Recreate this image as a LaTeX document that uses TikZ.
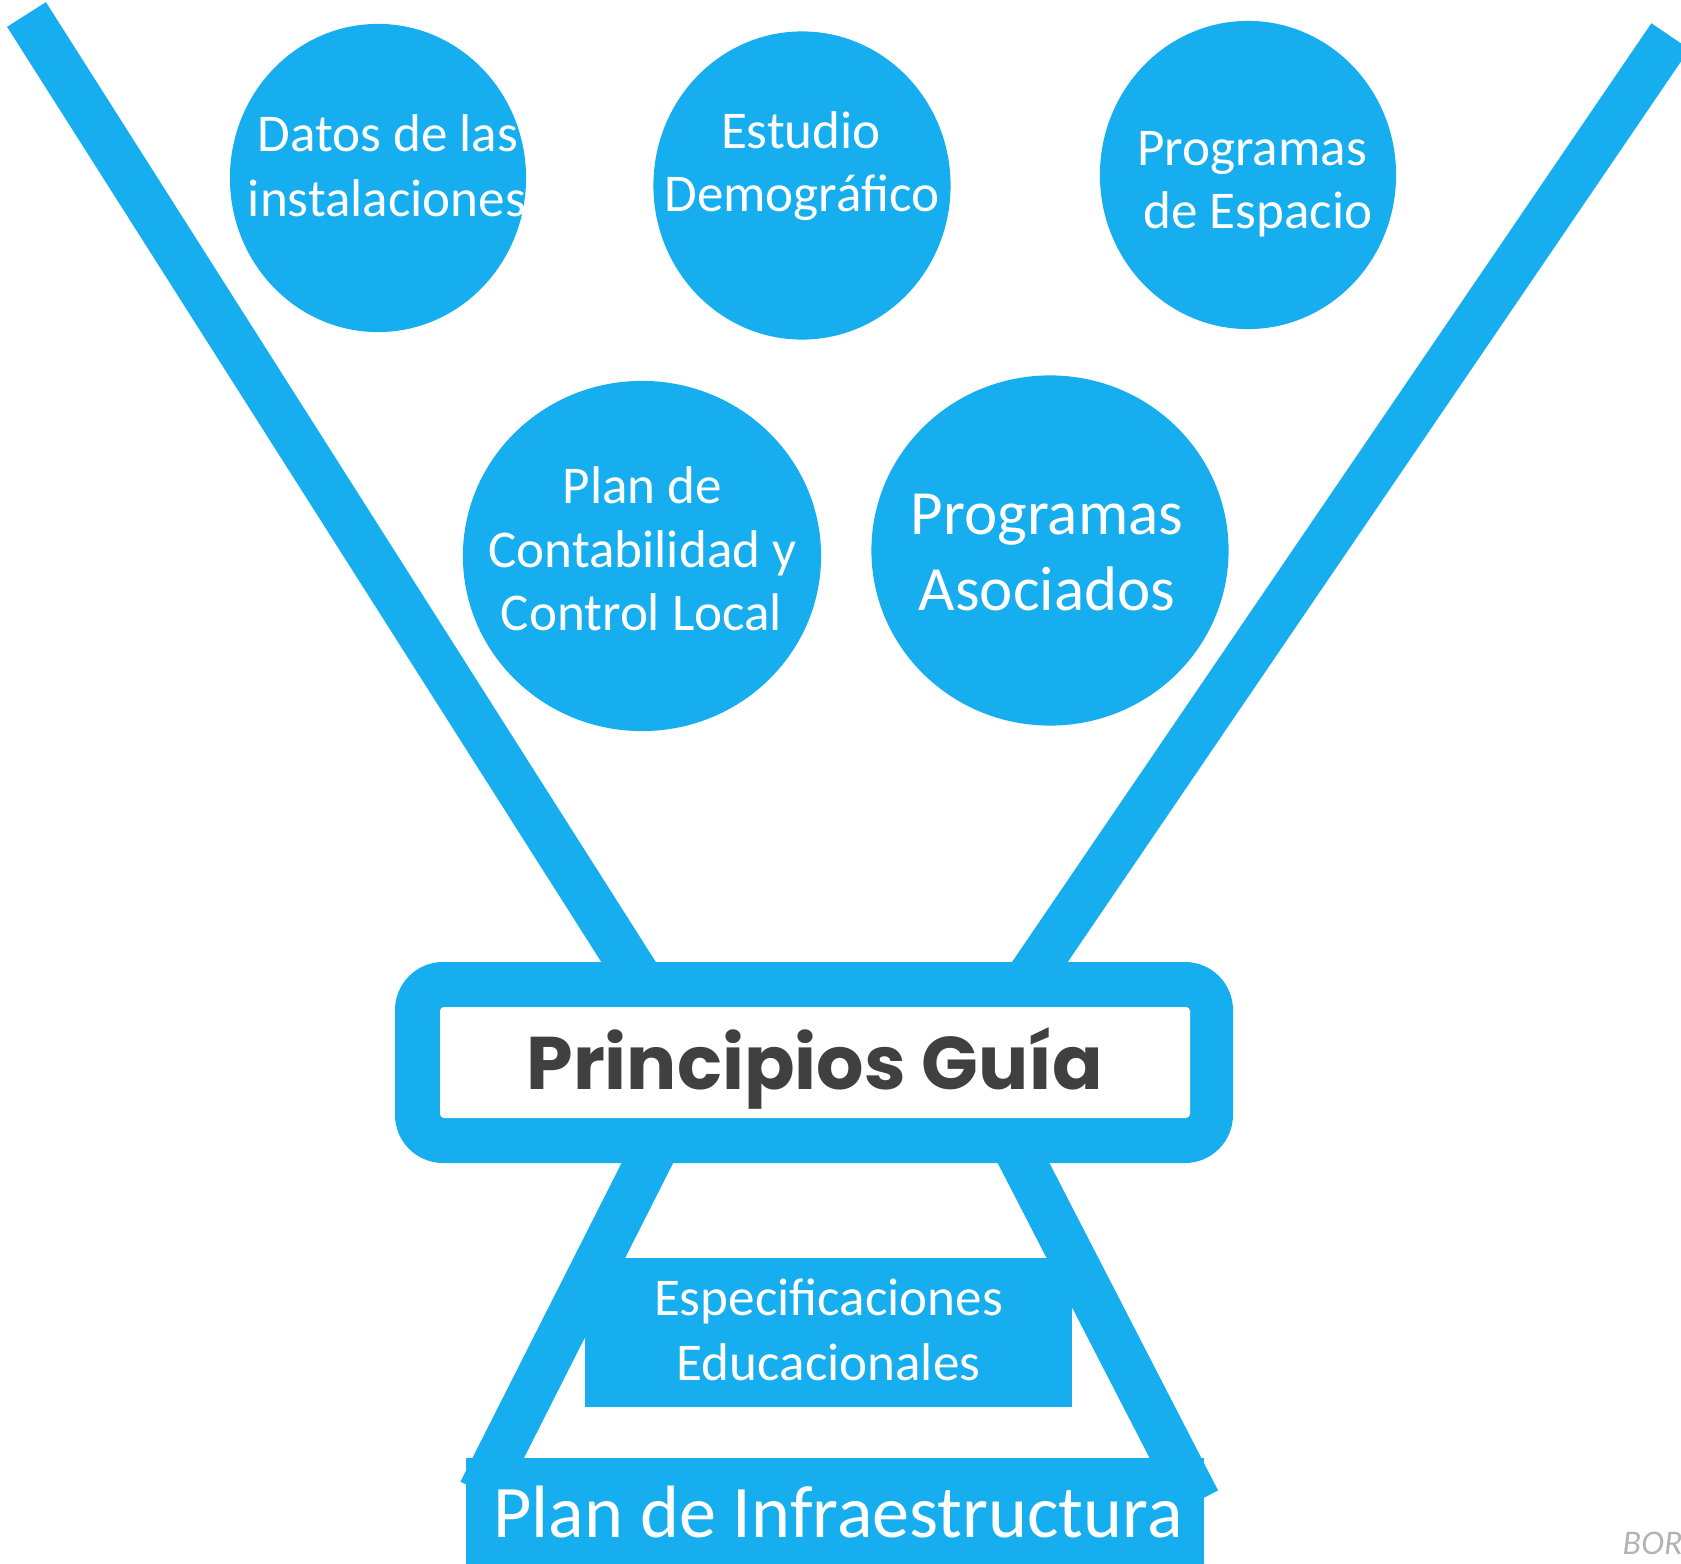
\documentclass[tikz,border=0pt]{standalone}
\usepackage{fontspec}
\setmainfont{Carlito}
\newfontfamily\guia{Poppins}
\newfontfamily\markfont{Lato}
\usetikzlibrary{shapes.geometric}
\definecolor{sky}{RGB}{22,174,239}
\definecolor{ink}{RGB}{64,64,64}
\tikzset{
  bub/.style={ellipse, fill=sky, inner sep=0pt},
  band/.style={draw=sky, line width=0.46cm},
  wtxt/.style={text=white, anchor=base, inner sep=0pt, font=\fontsize{15.1pt}{18pt}\selectfont},
  wbig/.style={text=white, anchor=base, inner sep=0pt, font=\fontsize{17.9pt}{21pt}\selectfont},
  whuge/.style={text=white, anchor=base, inner sep=0pt, font=\fontsize{21.1pt}{25pt}\selectfont},
}
\begin{document}
\begin{tikzpicture}[x=0.01cm, y=-0.01cm]
\useasboundingbox (0,0) rectangle (1681,1564);
% funnel lines
\coordinate (lt) at (26.5,14.5);
\coordinate (lb) at (652.7,1000);
\coordinate (rt) at (1670.4,36.2);
\coordinate (rb) at (1014,1000);
\draw[band] (lt) -- (lb);
\draw[band] (rt) -- (rb);
% legs
\coordinate (llt) at (659,1140);
\coordinate (llb) at (481,1492);
\coordinate (rlt) at (1011.7,1140);
\coordinate (rlb) at (1197.6,1501);
\draw[band] (llt) -- (llb);
\draw[band] (rlt) -- (rlb);
% principios box
\fill[sky, rounded corners=0.48cm] (395,962) rectangle (1233,1163);
\fill[white, rounded corners=0.04cm] (440,1007) rectangle (1190,1118);
\node[anchor=base, inner sep=0pt, text=ink, font=\guia\bfseries\fontsize{21.2pt}{25pt}\selectfont] (pg) at (815,1089) {Principios Guía};
% especificaciones box
\fill[sky] (585,1258) rectangle (1072,1407);
\node[wtxt] (es1) at (828.5,1315) {Especificaciones};
\node[wtxt] (es2) at (828.5,1380) {Educacionales};
% plan box
\fill[sky] (466,1458) rectangle (1204,1564);
\node[whuge] (pi) at (838,1537) {Plan de Infraestructura};
% bubbles
\node[bub, minimum width=2.96cm, minimum height=3.08cm] (c1) at (378,178) {};
\node[bub, minimum width=2.97cm, minimum height=3.08cm] (c2) at (802,185.5) {};
\node[bub, minimum width=2.96cm, minimum height=3.08cm] (c3) at (1248,175) {};
\node[bub, minimum width=3.58cm, minimum height=3.50cm] (c4) at (642,556) {};
\node[bub, minimum width=3.57cm, minimum height=3.50cm] (c5) at (1050,550.5) {};
\node[wtxt] (t11) at (388,152) {Datos de las};
\node[wtxt] (t12) at (387,217) {instalaciones};
\node[wtxt] (t21) at (801,149) {Estudio};
\node[wtxt] (t22) at (802,212) {Demográfico};
\node[wtxt] (t31) at (1252,166) {Programas};
\node[wtxt] (t32) at (1258,229) {de Espacio};
\node[wtxt] (t41) at (642.5,504) {Plan de};
\node[wtxt] (t42) at (642.5,568) {Contabilidad y};
\node[wtxt] (t43) at (641.5,631) {Control Local};
\node[wbig] (t51) at (1047,535) {Programas};
\node[wbig] (t52) at (1047,611) {Asociados};
% mark
\begin{scope}
\clip (1500,1500) rectangle (1681,1564);
\node[anchor=base west, inner sep=0pt, text=gray!60, font=\markfont\itshape\fontsize{8.8pt}{10pt}\selectfont] (bor) at (1622,1554) {BOR};
\end{scope}
\end{tikzpicture}
\end{document}
